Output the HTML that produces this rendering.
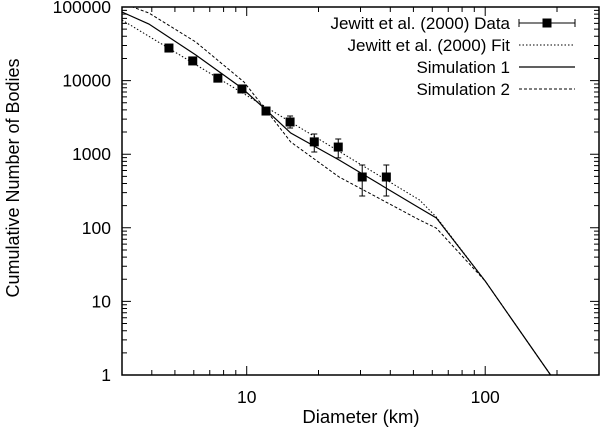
<!DOCTYPE html>
<html><head><meta charset="utf-8"><style>
body{margin:0;background:#fff}
svg{display:block;font-family:"Liberation Sans",sans-serif}
</style></head><body>
<svg id="chart" width="600" height="435" xmlns="http://www.w3.org/2000/svg">
<g id="ticks"></g>
<g id="series"></g>
<rect x="122" y="7" width="477" height="368" fill="none" stroke="#000" stroke-width="1.5"/>
<text x="13" y="178" transform="rotate(-90 13 178)" text-anchor="middle" font-size="18" dy="6">Cumulative Number of Bodies</text>
<text x="361" y="423" text-anchor="middle" font-size="18.5">Diameter (km)</text>
<g id="legend" font-size="17" text-anchor="end">
<text x="510" y="29">Jewitt et al. (2000) Data</text>
<text x="510" y="51">Jewitt et al. (2000) Fit</text>
<text x="510" y="73">Simulation 1</text>
<text x="510" y="95">Simulation 2</text>
<g stroke="#000" fill="none"><line x1="519" y1="23" x2="575" y2="23"/><line x1="519" y1="19" x2="519" y2="27"/><line x1="575" y1="19" x2="575" y2="27"/><rect x="543" y="19" width="8" height="8" fill="#000"/></g>
<line x1="519" y1="45" x2="575" y2="45" stroke="#000" stroke-dasharray="1.5,2"/>
<line x1="519" y1="67" x2="575" y2="67" stroke="#000" stroke-width="1.2"/>
<line x1="519" y1="89" x2="575" y2="89" stroke="#000" stroke-dasharray="3,2"/>
</g>
</svg>
<script>
const dataD=[4.72,5.94,7.57,9.55,12.05,15.2,19.2,24.2,30.5,38.5];
const dataN=[27700,18500,10800,7700,3860,2740,1470,1250,490,490];
const dataLo=[26000,17300,10100,7200,3500,2270,1070,890,270,270];
const dataHi=[29500,19800,11600,8300,4300,3300,1880,1610,713,713];
const fitD=[3,53,62.4,100,188];
const fitN=[66500,239,140,18.9,1];
const sim1D=[3,3.89,6.12,9.55,12.05,15.3,24.4,53,62.4,100,188];
const sim1N=[85500,58700,22300,7900,3990,1940,834,186,136,18.9,1];
const sim2D=[3,3.89,6.12,9.74,12.05,15.3,24.4,53,62.4,100,188];
const sim2N=[113000,82900,33400,9570,3990,1465,490,128,99,18.9,1];
const yTicks=[1,10,100,1000,10000,100000];
const yTickLabels=["1","10","100","1000","10000","100000"];
const xTicks=[10,100];
const xTickLabels=["10","100"];
const NS="http://www.w3.org/2000/svg";
const L=122,R=599,T=7,B=375;
const xLo=Math.log10(3),xHi=Math.log10(300),yLo=0,yHi=5;
function sx(v){return L+(Math.log10(v)-xLo)/(xHi-xLo)*(R-L);}
function sy(v){return B-(Math.log10(v)-yLo)/(yHi-yLo)*(B-T);}
function mk(tag,attrs,parent){const e=document.createElementNS(NS,tag);for(const k in attrs)e.setAttribute(k,attrs[k]);parent.appendChild(e);return e;}
const tg=document.getElementById('ticks');
for(let d=0;d<=5;d++){for(let m=1;m<10;m++){const v=Math.pow(10,d)*m;if(v>100000)break;const y=sy(v);const len=m===1?9:5;
const t=mk('path',{d:`M${L},${y}h${len}M${R},${y}h${-len}`,stroke:'#000','stroke-width':1},tg);

}}
yTicks.forEach((v,i)=>{const t=mk('text',{x:111,y:sy(v)+6,'text-anchor':'end','font-size':17.5},tg);t.textContent=yTickLabels[i];

});
for(let d=0;d<=2;d++){for(let m=1;m<10;m++){const v=Math.pow(10,d)*m;if(v<3||v>300)continue;const x=sx(v);const len=m===1?9:5;
const t=mk('path',{d:`M${x},${B}v${-len}M${x},${T}v${len}`,stroke:'#000','stroke-width':1},tg);

}}
xTicks.forEach((v,i)=>{const t=mk('text',{x:sx(v),y:403,'text-anchor':'middle','font-size':17.5},tg);t.textContent=xTickLabels[i];

});
const sg=document.getElementById('series');
const clip=mk('clipPath',{id:'pc'},sg);mk('rect',{x:L,y:T,width:R-L,height:B-T},clip);
function line(D,N,dash,w,name){const p=mk('polyline',{points:D.map((d,i)=>sx(d)+','+sy(N[i])).join(' '),fill:'none',stroke:'#000','stroke-width':w,'clip-path':'url(#pc)'},sg);if(dash)p.setAttribute('stroke-dasharray',dash);

}
line(fitD,fitN,'1.5,2',1,'fit-line');
line(sim2D,sim2N,'3,2',1,'sim2-line');
line(sim1D,sim1N,null,1.2,'sim1-line');
dataD.forEach((d,i)=>{const x=sx(d),y=sy(dataN[i]),y1=sy(dataHi[i]),y2=sy(dataLo[i]);
const g=mk('g',{},sg);


mk('path',{d:`M${x},${y1}V${y2}M${x-3},${y1}h6M${x-3},${y2}h6`,stroke:'#000','stroke-width':1},g);
mk('rect',{x:x-4.5,y:y-4.5,width:9,height:9,fill:'#000'},g);});
</script>
</body></html>
